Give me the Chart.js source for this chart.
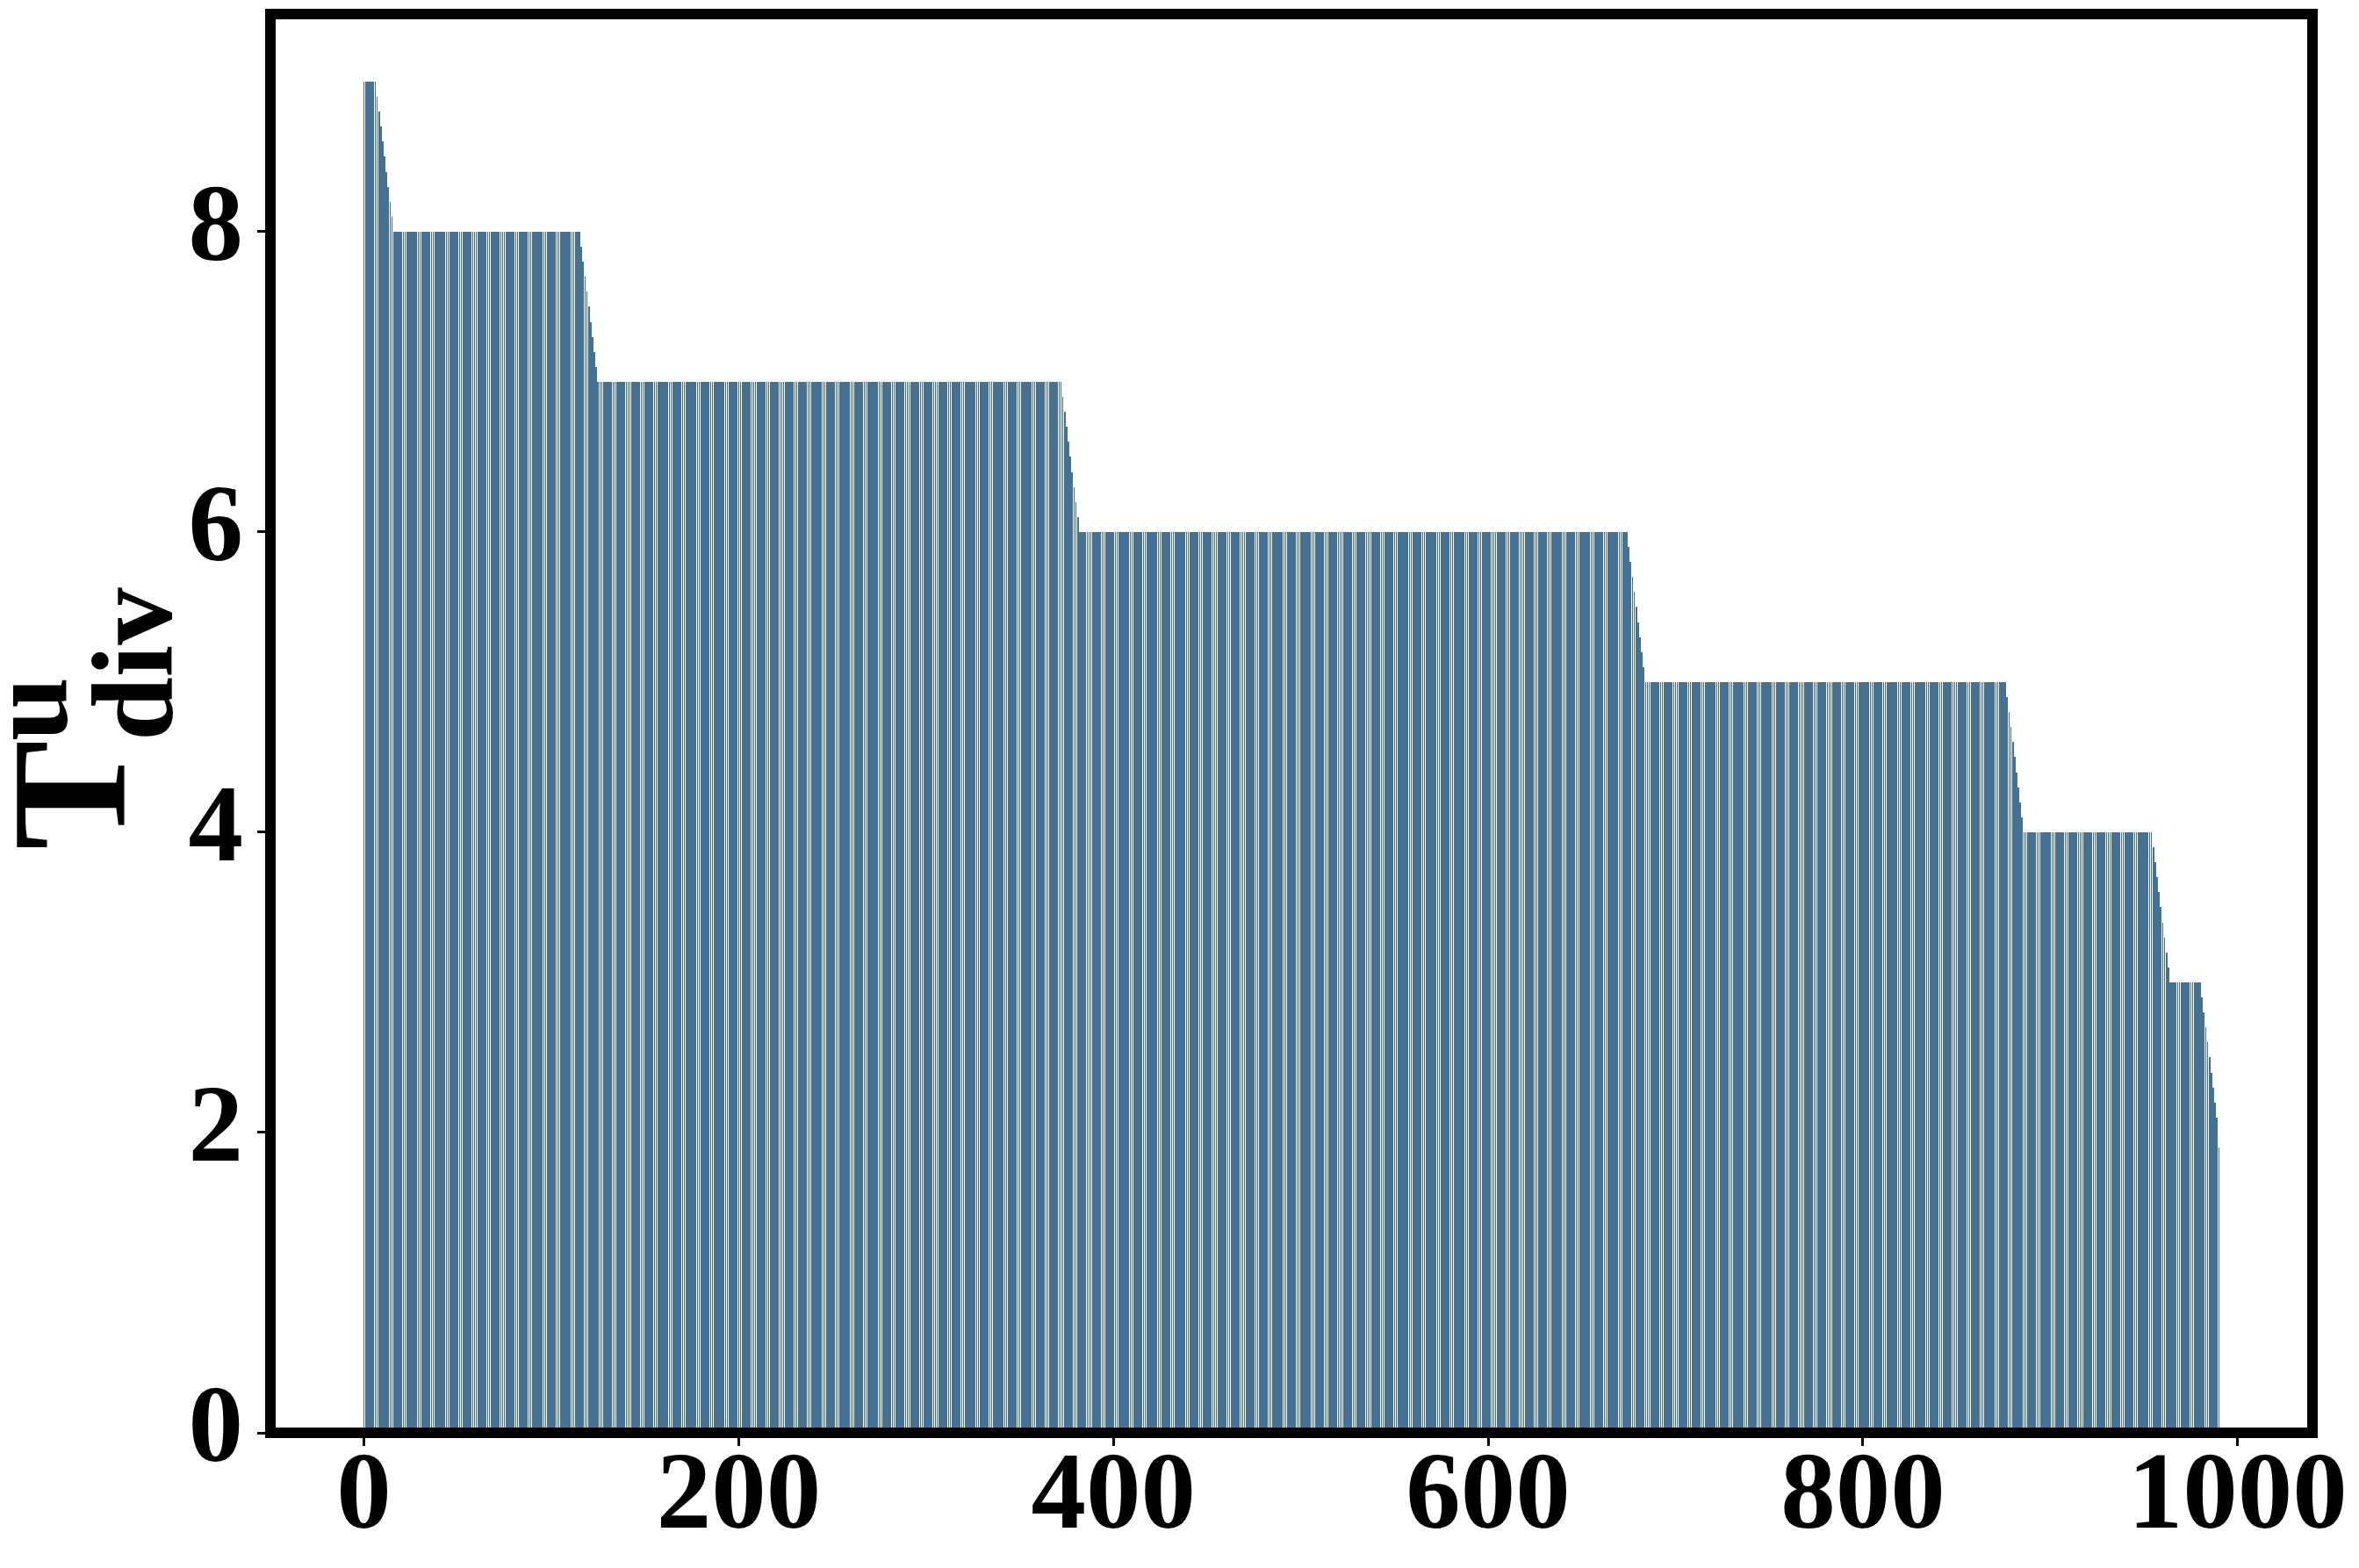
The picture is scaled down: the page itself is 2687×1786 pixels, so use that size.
<!DOCTYPE html>
<html>
<head>
<meta charset="utf-8">
<script src="https://cdn.jsdelivr.net/npm/chart.js@4.4.1/dist/chart.umd.min.js"></script>
<style>
  html, body { margin: 0; padding: 0; background: #fff; }
  #wrap { width: 2687px; height: 1786px; position: relative; }
  canvas { display: block; }
</style>
</head>
<body>
<div id="wrap"><canvas id="c" width="2687" height="1786"></canvas></div>
<script>
// ---- Data ----
// Sorted values, written as runs: runValues[k] repeated runLengths[k] times.
const runValues = [
  9.0, 8.9, 8.8, 8.7, 8.6, 8.5, 8.4, 8.3, 8.2, 8.1,
  8.0, 7.9, 7.8, 7.7, 7.6, 7.5, 7.4, 7.3, 7.2, 7.1,
  7.0, 6.9, 6.8, 6.7, 6.6, 6.5, 6.4, 6.3, 6.2, 6.1,
  6.0, 5.9, 5.8, 5.7, 5.6, 5.5, 5.4, 5.3, 5.2, 5.1,
  5.0, 4.9, 4.8, 4.7, 4.6, 4.5, 4.4, 4.3, 4.2, 4.1,
  4.0, 3.9, 3.8, 3.7, 3.6, 3.5, 3.4, 3.3, 3.2, 3.1,
  3.0, 2.9, 2.8, 2.7, 2.6, 2.5, 2.4, 2.3, 2.2, 2.1, 1.9
];
const runLengths = [
  7, 1, 1, 1, 1, 1, 1, 1, 1, 1,
  100, 1, 1, 1, 1, 1, 1, 1, 1, 1,
  248, 1, 1, 1, 1, 1, 1, 1, 1, 1,
  293, 1, 1, 1, 1, 1, 1, 1, 1, 1,
  193, 1, 1, 1, 1, 1, 1, 1, 1, 1,
  69, 1, 1, 1, 1, 1, 1, 1, 1, 1,
  17, 1, 1, 1, 1, 1, 1, 1, 1, 1, 1
];
const xTickValues = [0, 200, 400, 600, 800, 1000];
const yTickValues = [0, 2, 4, 6, 8];
const yLabelMain = 'T';
const yLabelSup = 'u';
const yLabelSub = 'div';

// Expand runs into the bar series
const barValues = [];
runValues.forEach((v, k) => { for (let j = 0; j < runLengths[k]; j++) barValues.push(v); });
const barPoints = barValues.map((v, i) => ({ x: i, y: v }));

const n = barValues.length;
const xMargin = (n - 1 + 0.8) * 0.05;
const xMin = -0.4 - xMargin;
const xMax = (n - 1) + 0.4 + xMargin;
const yMax = Math.max(...barValues) * 1.05;

const FONT = "'Liberation Serif', 'Times New Roman', serif";

// Pixel-snapped bar rendering (like the reference renderer), using the element's own geometry
Chart.BarElement.prototype.draw = function (ctx) {
  const { x, y, base, width } = this.getProps(['x', 'y', 'base', 'width']);
  const left = Math.round(x - width / 2);
  const right = Math.round(x + width / 2);
  const top = Math.round(Math.min(y, base));
  const bottom = Math.round(Math.max(y, base));
  if (right <= left) return;
  ctx.save();
  ctx.fillStyle = this.options.backgroundColor;
  ctx.fillRect(left, top, right - left, bottom - top);
  ctx.restore();
};

const framePlugin = {
  id: 'frame',
  afterDatasetsDraw(chart) {
    const { ctx, chartArea: a } = chart;
    ctx.save();
    ctx.strokeStyle = '#000';
    ctx.lineWidth = 12;
    ctx.lineJoin = 'miter';
    ctx.strokeRect(a.left, a.top, a.right - a.left, a.bottom - a.top);
    ctx.restore();
  },
  afterDraw(chart) {
    const { ctx } = chart;
    ctx.save();
    ctx.fillStyle = '#000';
    ctx.textAlign = 'left';
    ctx.textBaseline = 'alphabetic';
    ctx.translate(0, 968);
    ctx.rotate(-Math.PI / 2);
    ctx.font = 'bold 187px ' + FONT;
    ctx.fillText(yLabelMain, 0, 142);
    ctx.font = 'bold 131px ' + FONT;
    ctx.fillText(yLabelSup, 124, 75);
    ctx.fillText(yLabelSub, 124, 195);
    ctx.restore();
  }
};

new Chart(document.getElementById('c'), {
  type: 'bar',
  data: {
    datasets: [{
      data: barPoints,
      backgroundColor: '#457292',
      borderWidth: 0,
      barPercentage: 0.8,
      categoryPercentage: 1.0
    }]
  },
  options: {
    responsive: false,
    animation: false,
    devicePixelRatio: 1,
    layout: { padding: { top: 16, right: 53, left: 0, bottom: 0 } },
    plugins: { legend: { display: false }, tooltip: { enabled: false }, title: { display: false } },
    scales: {
      x: {
        type: 'linear',
        min: xMin,
        max: xMax,
        offset: false,
        afterFit(scale) { scale.height = 154; scale.paddingLeft = 0; scale.paddingRight = 0; },
        afterBuildTicks(scale) { scale.ticks = xTickValues.map(v => ({ value: v })); },
        grid: { display: true, offset: false, drawOnChartArea: false, drawTicks: true, tickLength: 15, tickWidth: 3, tickColor: '#000' },
        border: { display: false },
        ticks: {
          autoSkip: false, maxRotation: 0, minRotation: 0, padding: -14,
          color: '#000',
          font: { family: FONT, weight: 'bold', size: 125 },
          callback: v => String(v)
        }
      },
      y: {
        type: 'linear',
        min: 0,
        max: yMax,
        afterFit(scale) { scale.width = 308; scale.paddingTop = 0; scale.paddingBottom = 0; },
        afterBuildTicks(scale) { scale.ticks = yTickValues.map(v => ({ value: v })); },
        grid: { display: true, offset: false, drawOnChartArea: false, drawTicks: true, tickLength: 15, tickWidth: 3, tickColor: '#000' },
        border: { display: false },
        ticks: {
          autoSkip: false, padding: 16,
          color: '#000',
          font: { family: FONT, weight: 'bold', size: 125 },
          callback: v => String(v)
        }
      }
    }
  },
  plugins: [framePlugin]
});
</script>
</body>
</html>
